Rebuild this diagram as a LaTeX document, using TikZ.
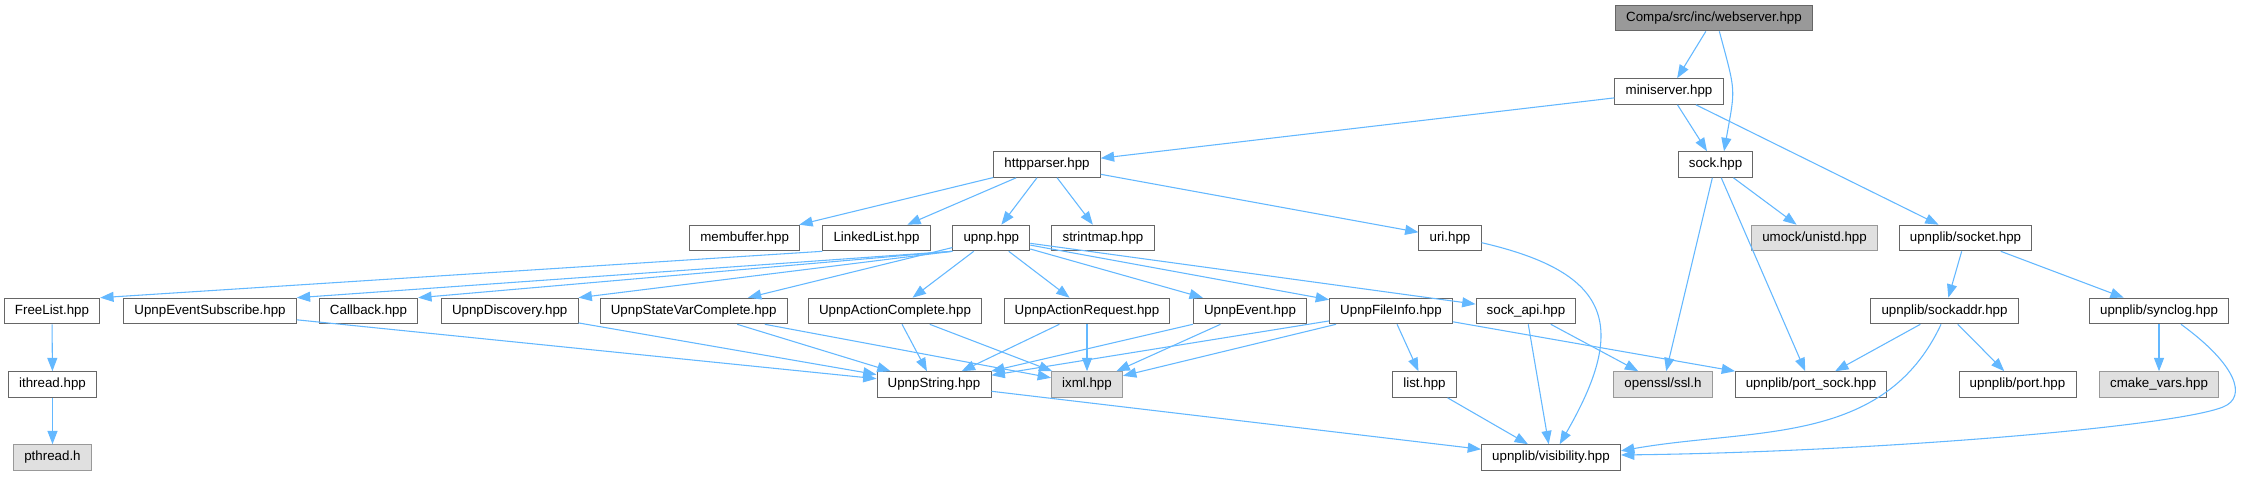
\documentclass[tikz,border=0pt]{standalone}
\usepackage{fontspec}
\setmainfont{Liberation Sans}
\usetikzlibrary{arrows.meta}
\definecolor{edgeblue}{HTML}{63B8FF}
\definecolor{boxgray}{HTML}{666666}
\definecolor{rootgray}{HTML}{999999}
\definecolor{extfill}{HTML}{E0E0E0}
\definecolor{extdraw}{HTML}{999999}

\begin{document}
\begin{tikzpicture}[
  x=0.75pt, y=-0.75pt,
  file/.style={draw=boxgray, fill=white, line width=0.75pt,
    minimum height=19.2pt, inner xsep=8pt, inner ysep=0pt,
    text height=7.3pt, text depth=2.1pt, font=\fontsize{10}{12}\selectfont},
  rootfile/.style={file, fill=rootgray},
  extfile/.style={file, draw=extdraw, fill=extfill},
  dep/.style={draw=edgeblue, line width=0.8pt,
    -{Triangle[length=10pt, width=7.5pt]}}
]
  \path[fill=white, use as bounding box] (0,0) rectangle (2243,476);

  % Top of the graph
  \node[rootfile] (webserver) at (1714, 18) {Compa/src/inc/webserver.hpp};
  \node[file] (miniserver) at (1669, 91.5) {miniserver.hpp};
  \node[file] (httpparser) at (1047, 164.5) {httpparser.hpp};
  \node[file] (sock) at (1715.5, 164.5) {sock.hpp};

  % Third row
  \node[file] (membuffer) at (744.6, 238) {membuffer.hpp};
  \node[file] (linkedlist) at (876.5, 238) {LinkedList.hpp};
  \node[file] (upnp) at (991.3, 238) {upnp.hpp};
  \node[file] (strintmap) at (1103, 238) {strintmap.hpp};
  \node[file] (uri) at (1450, 238) {uri.hpp};
  \node[extfile] (unistd) at (1814.5, 238) {umock/unistd.hpp};
  \node[file] (socket) at (1965.5, 238) {upnplib/socket.hpp};

  % Fourth row
  \node[file] (freelist) at (52, 311) {FreeList.hpp};
  \node[file] (eventsub) at (210, 311) {UpnpEventSubscribe.hpp};
  \node[file] (callback) at (368.5, 311) {Callback.hpp};
  \node[file] (discovery) at (509.7, 311) {UpnpDiscovery.hpp};
  \node[file] (statevar) at (693.7, 311) {UpnpStateVarComplete.hpp};
  \node[file] (actioncomplete) at (895, 311) {UpnpActionComplete.hpp};
  \node[file] (actionrequest) at (1087, 311) {UpnpActionRequest.hpp};
  \node[file] (upnpevent) at (1250, 311) {UpnpEvent.hpp};
  \node[file] (fileinfo) at (1391, 311) {UpnpFileInfo.hpp};
  \node[file] (sockapi) at (1526, 311) {sock\_api.hpp};
  \node[file] (sockaddr) at (1944.5, 311) {upnplib/sockaddr.hpp};
  \node[file] (synclog) at (2159, 311) {upnplib/synclog.hpp};

  % Fifth row
  \node[file] (ithread) at (52.5, 384.5) {ithread.hpp};
  \node[file] (upnpstring) at (934, 384.5) {UpnpString.hpp};
  \node[extfile] (ixml) at (1087, 384.5) {ixml.hpp};
  \node[file] (list) at (1424.5, 384.5) {list.hpp};
  \node[extfile] (openssl) at (1663, 384.5) {openssl/ssl.h};
  \node[file] (portsock) at (1811, 384.5) {upnplib/port\_sock.hpp};
  \node[file] (port) at (2017.5, 384.5) {upnplib/port.hpp};
  \node[extfile] (cmakevars) at (2159, 384.5) {cmake\_vars.hpp};

  % Bottom row
  \node[extfile] (pthread) at (52.5, 457.5) {pthread.h};
  \node[file] (visibility) at (1551, 457.5) {upnplib/visibility.hpp};

  \coordinate (synturn) at (2223, 407);

  % webserver and miniserver
  \draw[dep] (webserver) -- (miniserver);
  \draw[dep] ([xshift=4pt]webserver.south) to[out=-75, in=80, looseness=1.4]
    ([xshift=6.4pt]sock.north);
  \draw[dep] (miniserver) -- (httpparser);
  \draw[dep] (miniserver) -- (sock);
  \draw[dep] (miniserver) -- (socket);

  % httpparser
  \draw[dep] (httpparser) -- (membuffer);
  \draw[dep] (httpparser) -- (linkedlist);
  \draw[dep] (httpparser) -- (upnp);
  \draw[dep] (httpparser) -- (strintmap);
  \draw[dep] (httpparser) -- (uri);

  % sock and upnplib/socket
  \draw[dep] (sock) -- (unistd);
  \draw[dep] (sock) -- (openssl);
  \draw[dep] (sock) -- (portsock);
  \draw[dep] (socket) -- (sockaddr);
  \draw[dep] (socket) -- (synclog);

  % LinkedList and upnp
  \draw[dep] (linkedlist.south west) -- (freelist.north east);
  \draw[dep] (upnp.south west) -- (eventsub.north east);
  \draw[dep] (upnp.south west) -- (callback.north east);
  \draw[dep] (upnp.south west) -- (discovery.north east);
  \draw[dep] (upnp) -- (statevar);
  \draw[dep] (upnp) -- (actioncomplete);
  \draw[dep] (upnp) -- (actionrequest);
  \draw[dep] (upnp) -- (upnpevent);
  \draw[dep] (upnp) -- (fileinfo);
  \draw[dep] (upnp) -- (sockapi);
  \draw[dep] ([yshift=-3.5pt]uri.east) to[out=-13, in=60, looseness=1.6]
    ([xshift=6.5pt]visibility.north);

  % Fourth row
  \draw[dep] (freelist) -- (ithread);
  \draw[dep] (eventsub) -- (upnpstring);
  \draw[dep] (discovery) -- (upnpstring);
  \draw[dep] (statevar) -- (upnpstring);
  \draw[dep] (statevar) -- (ixml);
  \draw[dep] (actioncomplete) -- (upnpstring);
  \draw[dep] (actioncomplete) -- (ixml);
  \draw[dep] (actionrequest) -- (upnpstring);
  \draw[dep] (actionrequest) -- (ixml);
  \draw[dep] (upnpevent) -- (upnpstring);
  \draw[dep] (upnpevent) -- (ixml);
  \draw[dep] (fileinfo) -- (upnpstring);
  \draw[dep] (fileinfo) -- (ixml);
  \draw[dep] (fileinfo) -- (list);
  \draw[dep] (fileinfo) -- (portsock);
  \draw[dep] (sockapi) -- (openssl);
  \draw[dep] (sockapi) -- (visibility);
  \draw[dep] (sockaddr) -- (portsock);
  \draw[dep] (sockaddr) -- (port);
  \draw[dep] ([xshift=-2.6pt]sockaddr.south) to[out=-115, in=10]
    ([yshift=5pt]visibility.east);
  \draw[dep] (synclog) -- (cmakevars);
  \draw[dep] ([xshift=16.5pt]synclog.south) .. controls +(55,40) and +(25,-10)
    .. (synturn) .. controls +(-50,20) and +(250,-3)
    .. ([yshift=1.9pt]visibility.east);

  % Fifth row
  \draw[dep] (ithread) -- (pthread);
  \draw[dep] (upnpstring) -- (visibility);
  \draw[dep] (list) -- (visibility);
\end{tikzpicture}
\end{document}
